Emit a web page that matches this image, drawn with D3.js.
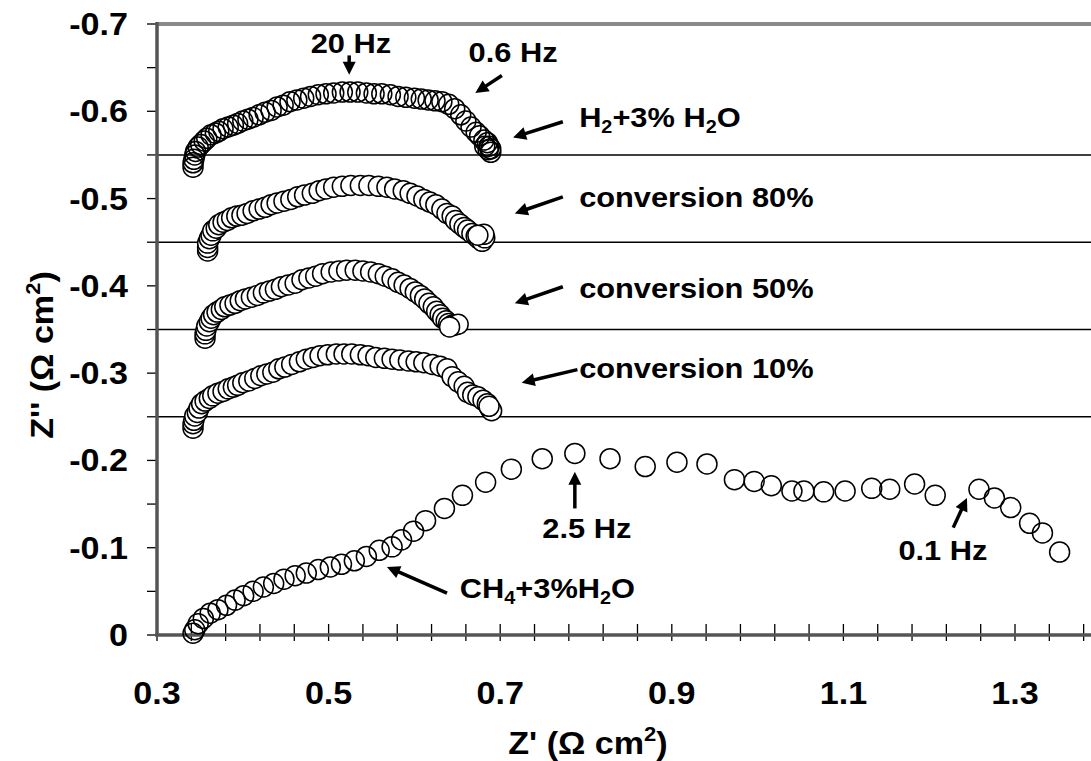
<!DOCTYPE html>
<html>
<head>
<meta charset="utf-8">
<script src="https://cdn.jsdelivr.net/npm/d3@7"></script>
<style>
  body { margin: 0; background: #fff; }
  text { font-family: "Liberation Sans", Arial, sans-serif; font-weight: bold; fill: #000; }
</style>
</head>
<body>
<script>
const width = 1091;
const height = 761;

// Z' , Z'' pairs (ohm cm2)
const ch4 = [
  [0.342,-0.002],[0.344,-0.006],[0.348,-0.013],[0.354,-0.019],[0.362,-0.025],[0.371,-0.029],
  [0.381,-0.034],[0.391,-0.040],[0.401,-0.045],[0.412,-0.050],[0.424,-0.055],[0.436,-0.059],
  [0.448,-0.064],[0.461,-0.068],[0.474,-0.071],[0.488,-0.075],[0.502,-0.078],[0.515,-0.081],
  [0.530,-0.085],[0.544,-0.090],[0.559,-0.097],[0.574,-0.101],[0.585,-0.109],[0.599,-0.119],
  [0.613,-0.131],[0.635,-0.145],[0.656,-0.160],[0.683,-0.175],[0.713,-0.190],[0.749,-0.202],
  [0.787,-0.208],[0.828,-0.202],[0.869,-0.193],[0.906,-0.198],[0.941,-0.196],[0.973,-0.178],
  [0.996,-0.176],[1.016,-0.171],[1.040,-0.165],[1.054,-0.165],[1.077,-0.164],[1.102,-0.165],
  [1.133,-0.168],[1.154,-0.167],[1.183,-0.173],[1.207,-0.160],[1.258,-0.167],[1.276,-0.157],
  [1.295,-0.146],[1.317,-0.128],[1.332,-0.117],[1.352,-0.095]
];

const conv10 = [
  [0.342,-0.237],[0.342,-0.242],[0.343,-0.246],[0.344,-0.251],[0.347,-0.255],[0.349,-0.260],
  [0.352,-0.265],[0.356,-0.268],[0.361,-0.271],[0.365,-0.274],[0.371,-0.277],[0.377,-0.279],
  [0.383,-0.282],[0.389,-0.284],[0.394,-0.286],[0.400,-0.289],[0.407,-0.291],[0.414,-0.294],
  [0.421,-0.297],[0.428,-0.299],[0.435,-0.301],[0.442,-0.305],[0.449,-0.307],[0.457,-0.310],
  [0.466,-0.313],[0.474,-0.316],[0.482,-0.318],[0.490,-0.320],[0.499,-0.321],[0.509,-0.322],
  [0.518,-0.322],[0.527,-0.322],[0.537,-0.321],[0.546,-0.320],[0.555,-0.318],[0.565,-0.317],
  [0.574,-0.316],[0.583,-0.315],[0.593,-0.314],[0.602,-0.313],[0.611,-0.312],[0.621,-0.310],
  [0.630,-0.308],[0.638,-0.305],[0.644,-0.296],[0.651,-0.290],[0.658,-0.285],[0.662,-0.278],
  [0.668,-0.275],[0.674,-0.273],[0.680,-0.269],[0.685,-0.265],[0.688,-0.260],[0.690,-0.257],
  [0.687,-0.262]
];

const conv50 = [
  [0.356,-0.340],[0.356,-0.345],[0.357,-0.349],[0.358,-0.354],[0.361,-0.359],[0.363,-0.363],
  [0.366,-0.367],[0.370,-0.370],[0.375,-0.373],[0.379,-0.376],[0.385,-0.378],[0.391,-0.380],
  [0.397,-0.383],[0.403,-0.385],[0.410,-0.387],[0.417,-0.389],[0.424,-0.392],[0.431,-0.394],
  [0.438,-0.396],[0.445,-0.399],[0.453,-0.401],[0.461,-0.403],[0.469,-0.407],[0.477,-0.409],
  [0.485,-0.411],[0.493,-0.414],[0.503,-0.416],[0.512,-0.417],[0.521,-0.418],[0.531,-0.418],
  [0.540,-0.417],[0.549,-0.416],[0.558,-0.414],[0.566,-0.411],[0.574,-0.408],[0.581,-0.404],
  [0.588,-0.401],[0.595,-0.397],[0.601,-0.393],[0.607,-0.389],[0.612,-0.385],[0.617,-0.380],
  [0.622,-0.376],[0.626,-0.371],[0.630,-0.367],[0.633,-0.363],[0.637,-0.360],[0.640,-0.357],
  [0.644,-0.355],[0.647,-0.355],[0.651,-0.356],[0.641,-0.353]
];

const conv80 = [
  [0.359,-0.440],[0.359,-0.444],[0.359,-0.449],[0.361,-0.454],[0.363,-0.458],[0.365,-0.463],
  [0.369,-0.466],[0.372,-0.470],[0.377,-0.473],[0.382,-0.475],[0.387,-0.478],[0.393,-0.480],
  [0.399,-0.481],[0.405,-0.483],[0.412,-0.486],[0.419,-0.488],[0.426,-0.490],[0.433,-0.493],
  [0.440,-0.495],[0.448,-0.497],[0.456,-0.499],[0.464,-0.502],[0.472,-0.504],[0.481,-0.506],
  [0.489,-0.509],[0.497,-0.511],[0.506,-0.513],[0.516,-0.514],[0.526,-0.515],[0.537,-0.515],
  [0.547,-0.515],[0.558,-0.514],[0.568,-0.513],[0.577,-0.511],[0.587,-0.509],[0.595,-0.506],
  [0.603,-0.503],[0.611,-0.499],[0.618,-0.496],[0.625,-0.493],[0.632,-0.488],[0.638,-0.483],
  [0.644,-0.480],[0.648,-0.475],[0.653,-0.471],[0.658,-0.467],[0.662,-0.464],[0.667,-0.460],
  [0.672,-0.457],[0.675,-0.454],[0.679,-0.451],[0.682,-0.455],[0.681,-0.459],[0.674,-0.458]
];

const h2 = [
  [0.342,-0.536],[0.342,-0.541],[0.343,-0.545],[0.344,-0.550],[0.345,-0.554],[0.348,-0.559],
  [0.351,-0.562],[0.355,-0.566],[0.358,-0.569],[0.363,-0.573],[0.368,-0.575],[0.372,-0.577],
  [0.377,-0.580],[0.383,-0.582],[0.389,-0.584],[0.394,-0.586],[0.400,-0.589],[0.406,-0.591],
  [0.412,-0.593],[0.419,-0.596],[0.426,-0.599],[0.433,-0.601],[0.440,-0.605],[0.447,-0.607],
  [0.455,-0.611],[0.463,-0.613],[0.471,-0.615],[0.479,-0.617],[0.488,-0.619],[0.497,-0.620],
  [0.506,-0.621],[0.516,-0.622],[0.525,-0.622],[0.534,-0.622],[0.544,-0.621],[0.553,-0.620],
  [0.562,-0.620],[0.572,-0.619],[0.581,-0.617],[0.590,-0.616],[0.600,-0.615],[0.608,-0.614],
  [0.616,-0.613],[0.624,-0.612],[0.632,-0.611],[0.640,-0.608],[0.647,-0.603],[0.654,-0.596],
  [0.660,-0.589],[0.666,-0.582],[0.672,-0.576],[0.676,-0.572],[0.681,-0.567],[0.685,-0.564],
  [0.687,-0.560],[0.689,-0.557],[0.689,-0.553],[0.686,-0.556],[0.682,-0.560]
];

// offset lines between the stacked spectra
const baselines = [-0.55, -0.45, -0.35, -0.25];

const xTickLabels = [0.3, 0.5, 0.7, 0.9, 1.1, 1.3];
const yTickLabels = [0, -0.1, -0.2, -0.3, -0.4, -0.5, -0.6, -0.7];

const sx = 1.1; // text in the original is a bit wider than Arial

const svg = d3.select("body").append("svg")
  .attr("width", width)
  .attr("height", height);

const x = d3.scaleLinear().domain([0.3, 1.4]).range([157, 1100.8]);
const y = d3.scaleLinear().domain([0, -0.7]).range([635, 24]);

function addText(px, py, anchor, size) {
  return svg.append("text")
    .attr("transform", `translate(${px},${py}) scale(${sx},1)`)
    .attr("text-anchor", anchor)
    .style("font-size", size + "px");
}

// offset lines
svg.append("g").selectAll("line")
  .data(baselines)
  .join("line")
  .attr("x1", x(0.3)).attr("x2", x(1.4))
  .attr("y1", d => y(d)).attr("y2", d => y(d))
  .attr("stroke", "#000").attr("stroke-width", 1.5);

// top frame line
svg.append("line")
  .attr("x1", x(0.3)).attr("x2", x(1.4))
  .attr("y1", y(-0.7)).attr("y2", y(-0.7))
  .attr("stroke", "#8a8a8a").attr("stroke-width", 4);

// y ticks every 0.05
svg.append("g").selectAll("line")
  .data(d3.range(0, 15).map(i => -i * 0.05))
  .join("line")
  .attr("x1", x(0.3) - 10).attr("x2", x(0.3))
  .attr("y1", d => y(d)).attr("y2", d => y(d))
  .attr("stroke", "#000").attr("stroke-width", 1.3);

// x ticks every 0.04 (crossing the axis)
svg.append("g").selectAll("line")
  .data(d3.range(0, 28).map(i => 0.3 + i * 0.04))
  .join("line")
  .attr("x1", d => x(d)).attr("x2", d => x(d))
  .attr("y1", y(0) - 11).attr("y2", y(0) + 6)
  .attr("stroke", "#000").attr("stroke-width", 1.3);

// axis lines
svg.append("line")
  .attr("x1", x(0.3)).attr("x2", x(0.3))
  .attr("y1", y(-0.7) - 2).attr("y2", y(0))
  .attr("stroke", "#555").attr("stroke-width", 3.5);
svg.append("line")
  .attr("x1", x(0.3) - 2).attr("x2", x(1.4))
  .attr("y1", y(0)).attr("y2", y(0))
  .attr("stroke", "#555").attr("stroke-width", 3.5);

// tick labels
yTickLabels.forEach(v => {
  addText(128, y(v) + 11, "end", 31).text(v === 0 ? "0" : v.toFixed(1));
});
xTickLabels.forEach(v => {
  addText(x(v), 704, "middle", 31).text(v.toFixed(1));
});

// axis titles
const xt = addText(588, 754, "middle", 31);
xt.append("tspan").text("Z' (\u03A9 cm");
xt.append("tspan").attr("dy", -13).style("font-size", "20px").text("2");
xt.append("tspan").attr("dy", 13).text(")");

const yt = svg.append("text")
  .attr("transform", `translate(53,355) rotate(-90) scale(${sx},1)`)
  .attr("text-anchor", "middle")
  .style("font-size", "31px");
yt.append("tspan").text("Z'' (\u03A9 cm");
yt.append("tspan").attr("dy", -13).style("font-size", "20px").text("2");
yt.append("tspan").attr("dy", 13).text(")");

// markers
function drawSeries(data, fill) {
  svg.append("g").selectAll("circle")
    .data(data)
    .join("circle")
    .attr("cx", d => x(d[0]))
    .attr("cy", d => y(d[1]))
    .attr("r", 10)
    .attr("fill", fill)
    .attr("stroke", "#000")
    .attr("stroke-width", 1.5);
}
drawSeries(ch4, "none");
drawSeries(conv10, "#fff");
drawSeries(conv50, "#fff");
drawSeries(conv80, "#fff");
drawSeries(h2, "none");

// arrows (data coordinates, tail -> tip)
function arrow(x1, y1, x2, y2) {
  const ax = x(x1), ay = y(y1), bx = x(x2), by = y(y2);
  const len = Math.hypot(bx - ax, by - ay);
  const ux = (bx - ax) / len, uy = (by - ay) / len;
  const hl = 13, hw = 6.5;
  const cx = bx - ux * hl, cy = by - uy * hl;
  svg.append("line")
    .attr("x1", ax).attr("y1", ay).attr("x2", cx + ux).attr("y2", cy + uy)
    .attr("stroke", "#000").attr("stroke-width", 3.5);
  svg.append("path")
    .attr("d", `M${bx},${by}L${cx - uy * hw},${cy + ux * hw}L${cx + uy * hw},${cy - ux * hw}Z`)
    .attr("fill", "#000");
}

arrow(0.524, -0.664, 0.524, -0.642);   // 20 Hz
arrow(0.702, -0.641, 0.671, -0.621);   // 0.6 Hz
arrow(0.773, -0.588, 0.715, -0.570);   // H2
arrow(0.773, -0.502, 0.717, -0.483);   // 80 %
arrow(0.773, -0.399, 0.717, -0.380);   // 50 %
arrow(0.790, -0.304, 0.725, -0.289);   // 10 %
arrow(0.787, -0.145, 0.787, -0.187);   // 2.5 Hz
arrow(0.638, -0.048, 0.568, -0.078);   // CH4
arrow(1.228, -0.123, 1.244, -0.157);   // 0.1 Hz

// annotation texts
addText(x(0.526), y(-0.667), "middle", 28).text("20 Hz");
addText(x(0.715), y(-0.656), "middle", 28).text("0.6 Hz");
addText(x(0.801), y(-0.111), "middle", 28).text("2.5 Hz");
addText(x(1.216), y(-0.086), "middle", 28).text("0.1 Hz");
addText(x(0.792), y(-0.490), "start", 28).text("conversion 80%");
addText(x(0.792), y(-0.386), "start", 28).text("conversion 50%");
addText(x(0.792), y(-0.294), "start", 28).text("conversion 10%");

const h2t = addText(x(0.792), y(-0.582), "start", 28);
h2t.append("tspan").text("H");
h2t.append("tspan").attr("dy", 6).style("font-size", "18px").text("2");
h2t.append("tspan").attr("dy", -6).text("+3% H");
h2t.append("tspan").attr("dy", 6).style("font-size", "18px").text("2");
h2t.append("tspan").attr("dy", -6).text("O");

const ch4t = addText(x(0.653), y(-0.042), "start", 28);
ch4t.append("tspan").text("CH");
ch4t.append("tspan").attr("dy", 6).style("font-size", "18px").text("4");
ch4t.append("tspan").attr("dy", -6).text("+3%H");
ch4t.append("tspan").attr("dy", 6).style("font-size", "18px").text("2");
ch4t.append("tspan").attr("dy", -6).text("O");
</script>
</body>
</html>
